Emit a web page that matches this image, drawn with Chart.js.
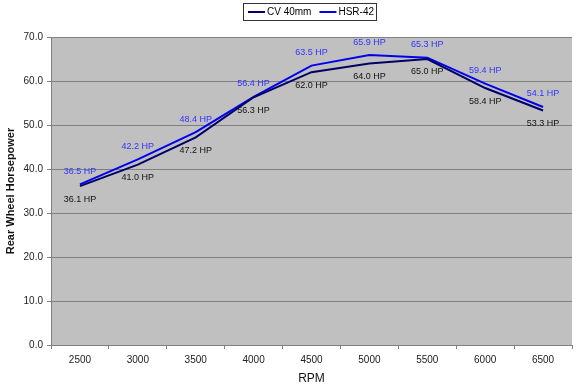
<!DOCTYPE html>
<html>
<head>
<meta charset="utf-8">
<script src="https://cdn.jsdelivr.net/npm/chart.js@4/dist/chart.umd.min.js"></script>
<style>
  html, body { margin: 0; padding: 0; background: #fff; }
  #wrap { width: 577px; height: 390px; }
</style>
</head>
<body>
<div id="wrap"><canvas id="dynoChart" width="577" height="390"></canvas></div>
<script>
const rpm = ['2500', '3000', '3500', '4000', '4500', '5000', '5500', '6000', '6500'];
const cv40 = [36.1, 41.0, 47.2, 56.3, 62.0, 64.0, 65.0, 58.4, 53.3];
const hsr42 = [36.5, 42.2, 48.4, 56.4, 63.5, 65.9, 65.3, 59.4, 54.1];

const FONT = '"Liberation Sans", Arial, sans-serif';

// grey plot background
const plotBg = {
  id: 'plotBg',
  beforeDraw(chart) {
    const { ctx, chartArea: a } = chart;
    ctx.save();
    ctx.fillStyle = '#c0c0c0';
    ctx.fillRect(a.left, a.top, a.right - a.left, a.bottom - a.top);
    ctx.restore();
  }
};

// "xx.x HP" labels, HSR above, CV below
const hpLabels = {
  id: 'hpLabels',
  afterDatasetsDraw(chart) {
    const ctx = chart.ctx;
    ctx.save();
    ctx.font = '9px ' + FONT;
    ctx.textAlign = 'center';
    ctx.textBaseline = 'middle';
    chart.data.datasets.forEach((ds, i) => {
      const meta = chart.getDatasetMeta(i);
      const above = ds.label === 'HSR-42';
      ctx.fillStyle = above ? '#3333ff' : '#111111';
      meta.data.forEach((pt, j) => {
        const y = above ? pt.y - 13 : pt.y + 13;
        ctx.fillText(ds.data[j].toFixed(1) + ' HP', pt.x, y);
      });
    });
    ctx.restore();
  }
};

// boxed legend at the top
const boxLegend = {
  id: 'boxLegend',
  afterDraw(chart) {
    const ctx = chart.ctx;
    const x0 = 243, y0 = 3, w = 133, h = 17;
    ctx.save();
    ctx.fillStyle = '#ffffff';
    ctx.fillRect(x0, y0, w, h);
    ctx.strokeStyle = '#333333';
    ctx.lineWidth = 1;
    ctx.strokeRect(x0 + 0.5, y0 + 0.5, w, h);
    ctx.font = '10px ' + FONT;
    ctx.textBaseline = 'middle';
    ctx.fillStyle = '#000';
    let x = x0 + 5;
    chart.data.datasets.forEach(ds => {
      ctx.strokeStyle = ds.borderColor;
      ctx.lineWidth = 2;
      ctx.beginPath();
      ctx.moveTo(x, y0 + h / 2 + 0.5);
      ctx.lineTo(x + 17, y0 + h / 2 + 0.5);
      ctx.stroke();
      x += 19;
      ctx.fillText(ds.label, x, y0 + h / 2 + 1);
      x += ctx.measureText(ds.label).width + 8;
    });
    ctx.restore();
  }
};

new Chart(document.getElementById('dynoChart'), {
  type: 'line',
  data: {
    labels: rpm,
    datasets: [
      { label: 'CV 40mm', data: cv40, borderColor: '#000066', borderWidth: 2, pointRadius: 0, tension: 0 },
      { label: 'HSR-42', data: hsr42, borderColor: '#0000ee', borderWidth: 2, pointRadius: 0, tension: 0 }
    ]
  },
  options: {
    responsive: false,
    animation: false,
    layout: { padding: { top: 37, right: 5, left: 0, bottom: 0 } },
    plugins: {
      legend: { display: false },
      tooltip: { enabled: false }
    },
    scales: {
      x: {
        offset: true,
        grid: { display: true, drawOnChartArea: false, color: '#808080', tickLength: 4, offset: true },
        border: { color: '#808080' },
        ticks: { color: '#222', font: { family: FONT, size: 10 }, padding: 5 },
        title: { display: true, text: 'RPM', color: '#111', font: { family: FONT, size: 12 }, padding: { top: 6 } },
        afterFit(scale) { scale.height = 45; }
      },
      y: {
        min: 0,
        max: 70,
        ticks: {
          stepSize: 10,
          color: '#222',
          font: { family: FONT, size: 10 },
          padding: 4,
          callback: v => v.toFixed(1)
        },
        grid: { color: '#808080', tickLength: 4 },
        border: { color: '#808080' },
        title: { display: true, text: 'Rear Wheel Horsepower', color: '#111', font: { family: FONT, size: 11, weight: 'bold' }, padding: { bottom: 4 } },
        afterFit(scale) { scale.width = 51; }
      }
    }
  },
  plugins: [plotBg, hpLabels, boxLegend]
});
</script>
</body>
</html>
